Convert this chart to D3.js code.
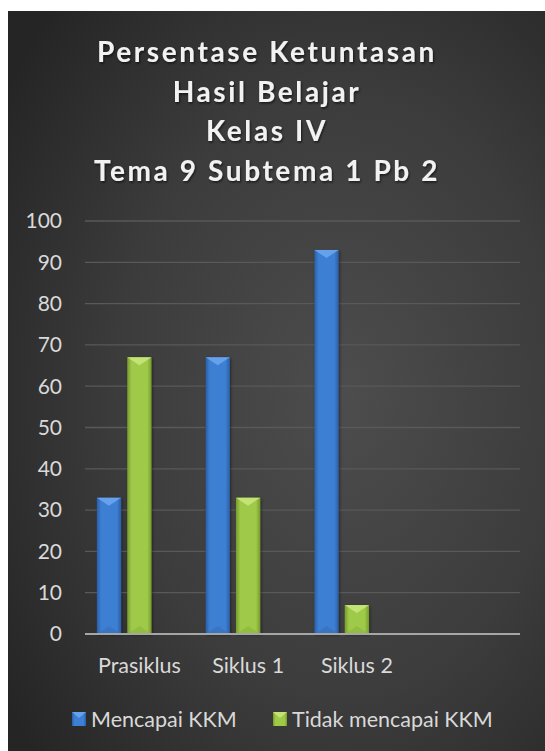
<!DOCTYPE html>
<html>
<head>
<meta charset="utf-8">
<script src="https://cdn.jsdelivr.net/npm/d3@7"></script>
<style>
  html, body { margin: 0; padding: 0; background: #fff; }
  svg { display: block; }
</style>
</head>
<body>
<svg id="chart" width="545" height="751"></svg>
<script>
// chart data
const categories = ['Prasiklus', 'Siklus 1', 'Siklus 2', ''];
const seriesNames = ['Mencapai KKM', 'Tidak mencapai KKM'];
const mencapai = [33, 67, 93, null];
const tidakMencapai = [67, 33, 7, null];
const yTicks = [0, 10, 20, 30, 40, 50, 60, 70, 80, 90, 100];
const titleLines = ['Persentase Ketuntasan', 'Hasil Belajar', 'Kelas IV', 'Tema 9 Subtema 1 Pb 2'];

const W = 545, H = 751;
const svg = d3.select('#chart');
const defs = svg.append('defs');

// background gradient (lighter in the middle)
const bg = defs.append('radialGradient').attr('id', 'bg')
  .attr('cx', '0.62').attr('cy', '0.52').attr('r', '0.75');
bg.append('stop').attr('offset', '0%').attr('stop-color', '#4d4d4d');
bg.append('stop').attr('offset', '55%').attr('stop-color', '#3c3c3c');
bg.append('stop').attr('offset', '100%').attr('stop-color', '#252525');

svg.append('rect').attr('x', 8).attr('y', 11).attr('width', W - 8).attr('height', H - 11)
  .attr('fill', 'url(#bg)');

// bar colours
const palette = {
  'Mencapai KKM': { edge: '#2b5ea6', mid: '#3d7fd3', top: '#6aa6ee', bottom: '#3570bd' },
  'Tidak mencapai KKM': { edge: '#779a2e', mid: '#9fca48', top: '#c8e67a', bottom: '#8ab63a' }
};

Object.entries(palette).forEach(([name, c], i) => {
  const g = defs.append('linearGradient').attr('id', 'bar' + i)
    .attr('x1', '0').attr('x2', '1').attr('y1', '0').attr('y2', '0');
  g.append('stop').attr('offset', '0%').attr('stop-color', c.edge);
  g.append('stop').attr('offset', '18%').attr('stop-color', c.mid);
  g.append('stop').attr('offset', '82%').attr('stop-color', c.mid);
  g.append('stop').attr('offset', '100%').attr('stop-color', c.edge);
});

const shadow = defs.append('filter').attr('id', 'shadow')
  .attr('x', '-30%').attr('y', '-10%').attr('width', '160%').attr('height', '120%');
shadow.append('feDropShadow').attr('dx', 1).attr('dy', 1).attr('stdDeviation', 1.5)
  .attr('flood-color', '#000').attr('flood-opacity', 0.45);

const txtShadow = defs.append('filter').attr('id', 'tshadow');
txtShadow.append('feDropShadow').attr('dx', 1).attr('dy', 1.5).attr('stdDeviation', 1)
  .attr('flood-color', '#000').attr('flood-opacity', 0.6);

// title
svg.append('g')
  .selectAll('text')
  .data(titleLines)
  .join('text')
  .attr('x', 267)
  .attr('y', (d, i) => 62 + i * 39.5)
  .attr('text-anchor', 'middle')
  .attr('font-family', 'Lato, sans-serif')
  .attr('font-weight', 700)
  .attr('font-size', 28)
  .attr('letter-spacing', 2.6)
  .attr('fill', '#f2f2f2')
  .attr('filter', 'url(#tshadow)')
  .text(d => d);

// scales
const margin = { left: 85, right: 25, top: 221, bottom: 117 };
const x0 = d3.scaleBand().domain(categories)
  .range([margin.left, W - margin.right]).paddingInner(0.218).paddingOuter(0.109);
// three slots per category, the third one stays empty
const x1 = d3.scaleBand().domain([...seriesNames, 'empty'])
  .range([0, x0.bandwidth()]).paddingInner(0.2).paddingOuter(0);
const y = d3.scaleLinear().domain([0, 100]).range([H - margin.bottom, margin.top]);

// gridlines
svg.append('g')
  .selectAll('line')
  .data(yTicks.filter(t => t > 0))
  .join('line')
  .attr('x1', margin.left).attr('x2', W - margin.right)
  .attr('y1', d => y(d)).attr('y2', d => y(d))
  .attr('stroke', '#595959').attr('stroke-width', 1.3);

// y tick labels
svg.append('g')
  .selectAll('text')
  .data(yTicks)
  .join('text')
  .attr('x', 62)
  .attr('y', d => y(d))
  .attr('dy', '0.35em')
  .attr('text-anchor', 'end')
  .attr('font-family', 'Lato, sans-serif')
  .attr('font-size', 21)
  .attr('fill', '#d9d9d9')
  .text(d => d);

// bars
const rows = [];
categories.forEach((cat, i) => {
  if (mencapai[i] != null) rows.push({ cat, series: seriesNames[0], value: mencapai[i], idx: 0 });
  if (tidakMencapai[i] != null) rows.push({ cat, series: seriesNames[1], value: tidakMencapai[i], idx: 1 });
});

const bars = svg.append('g')
  .selectAll('g')
  .data(rows)
  .join('g')
  .attr('transform', d => `translate(${x0(d.cat) + x1(d.series)},0)`);

const bw = x1.bandwidth();
const bevel = 8;

bars.append('rect')
  .attr('x', 0)
  .attr('y', d => y(d.value))
  .attr('width', bw)
  .attr('height', d => y(0) - y(d.value))
  .attr('fill', d => `url(#bar${d.idx})`)
  .attr('filter', 'url(#shadow)');

// top bevel
bars.append('path')
  .attr('d', d => {
    const t = y(d.value);
    return `M0,${t} L${bw},${t} L${bw / 2},${t + bevel} Z`;
  })
  .attr('fill', d => palette[d.series].top)
  .attr('opacity', 0.9);

// bottom bevel
bars.append('path')
  .attr('d', d => {
    const b = y(0);
    return `M0,${b} L${bw},${b} L${bw / 2},${b - bevel} Z`;
  })
  .attr('fill', d => palette[d.series].bottom)
  .attr('opacity', 0.6);

// x axis line
svg.append('line')
  .attr('x1', margin.left).attr('x2', W - margin.right)
  .attr('y1', y(0)).attr('y2', y(0))
  .attr('stroke', '#a6a6a6').attr('stroke-width', 2);

// category labels
svg.append('g')
  .selectAll('text')
  .data(categories)
  .join('text')
  .attr('x', d => x0(d) + x0.bandwidth() / 2)
  .attr('y', 665)
  .attr('dy', '0.35em')
  .attr('text-anchor', 'middle')
  .attr('font-family', 'Lato, sans-serif')
  .attr('font-size', 21.5)
  .attr('fill', '#d9d9d9')
  .text(d => d);

// legend
const legendX = [72, 273];
const legend = svg.append('g')
  .selectAll('g')
  .data(seriesNames)
  .join('g')
  .attr('transform', (d, i) => `translate(${legendX[i]},712)`);

legend.append('rect')
  .attr('width', 14).attr('height', 14)
  .attr('fill', (d, i) => `url(#bar${i})`);
legend.append('path')
  .attr('d', 'M0,0 L14,0 L7,6 Z')
  .attr('fill', d => palette[d].top)
  .attr('opacity', 0.9);
legend.append('text')
  .attr('x', 19)
  .attr('y', 7)
  .attr('dy', '0.35em')
  .attr('font-family', 'Lato, sans-serif')
  .attr('font-size', 21.5)
  .attr('fill', '#d9d9d9')
  .text(d => d);
</script>
</body>
</html>
